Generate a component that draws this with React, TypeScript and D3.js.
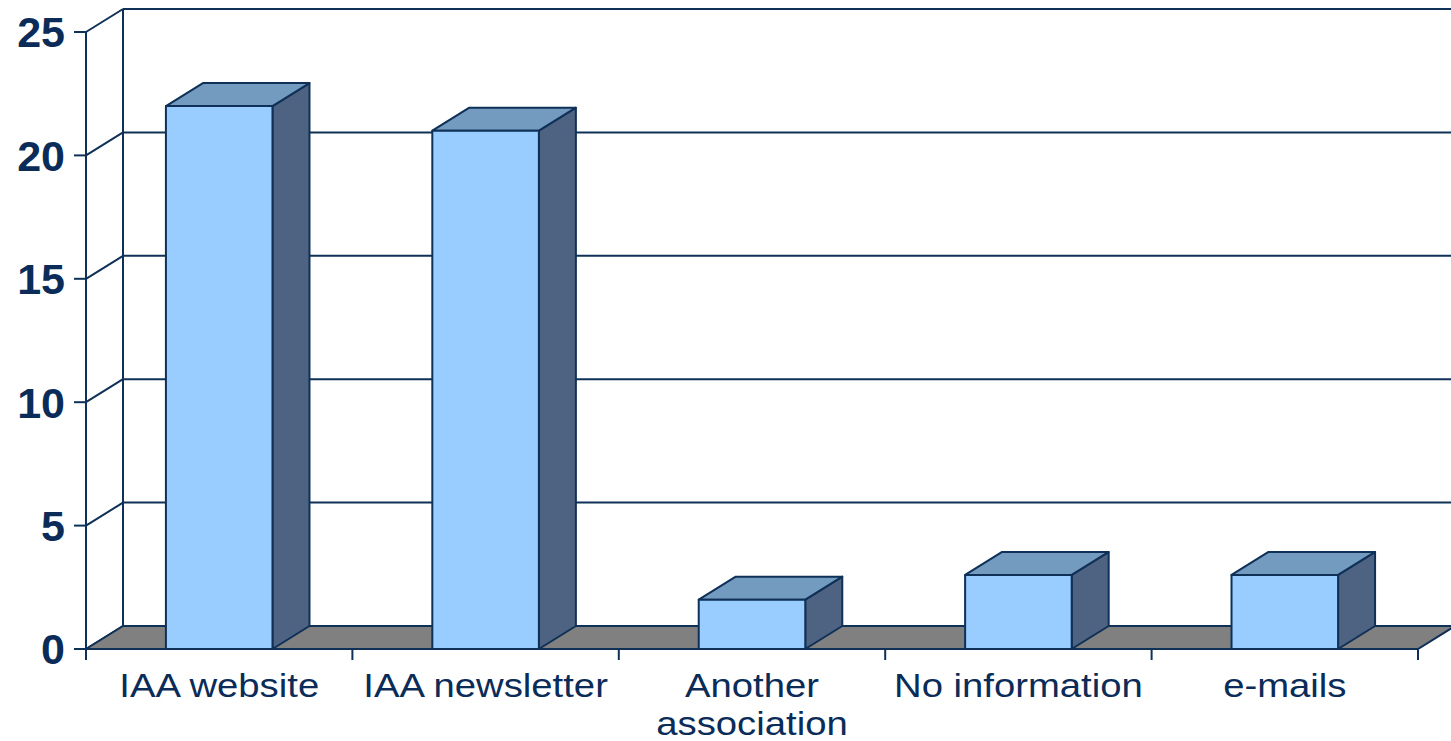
import React from "react";
import * as d3 from "d3";

const categories: string[][] = [
  ["IAA website"],
  ["IAA newsletter"],
  ["Another", "association"],
  ["No information"],
  ["e-mails"],
];
const values: number[] = [22, 21, 2, 3, 3];
const yTicks: number[] = [0, 5, 10, 15, 20, 25];

const W = 1451;
const H = 741;
const DX = 37;
const DY = 23;
const LINE = "#0f3057";
const TEXT = "#0b2c58";
const SW = 2;

export default function App() {
  const keys = categories.map((c) => c.join(" "));
  const x = d3.scaleBand<string>().domain(keys).range([86, 1418]).paddingInner(0.6).paddingOuter(0.3);
  const y = d3.scaleLinear().domain([0, 25]).range([649, 32]);
  const x0 = x.range()[0];
  const x1 = x.range()[1];
  const step = x.step();
  const base = y(0);

  const poly = (pts: [number, number][]) => pts.map((p) => p.join(",")).join(" ");

  return (
    <svg width={W} height={H} style={{ position: "absolute", left: 0, top: 0, background: "#fff" }}>
      {/* back wall gridlines */}
      {yTicks.map((t) => (
        <line key={"g" + t} x1={x0 + DX} x2={W} y1={y(t) - DY} y2={y(t) - DY} stroke={LINE} strokeWidth={SW} />
      ))}
      <line x1={x0 + DX} x2={x0 + DX} y1={y(25) - DY} y2={base - DY} stroke={LINE} strokeWidth={SW} />
      {/* left wall diagonals */}
      {yTicks.map((t) => (
        <line key={"d" + t} x1={x0} x2={x0 + DX} y1={y(t)} y2={y(t) - DY} stroke={LINE} strokeWidth={SW} />
      ))}
      {/* floor */}
      <polygon
        points={poly([
          [x0, base],
          [x0 + DX, base - DY],
          [x1 + DX, base - DY],
          [x1, base],
        ])}
        fill="#808080"
        stroke={LINE}
        strokeWidth={SW}
      />
      {/* bars */}
      {values.map((v, i) => {
        const bx = x(keys[i]) as number;
        const bw = x.bandwidth();
        const yt = y(v);
        return (
          <g key={"b" + i} stroke={LINE} strokeWidth={SW} strokeLinejoin="round">
            <polygon
              points={poly([
                [bx + bw, yt],
                [bx + bw + DX, yt - DY],
                [bx + bw + DX, base - DY],
                [bx + bw, base],
              ])}
              fill="#4d6381"
            />
            <polygon
              points={poly([
                [bx, yt],
                [bx + DX, yt - DY],
                [bx + bw + DX, yt - DY],
                [bx + bw, yt],
              ])}
              fill="#739abf"
            />
            <rect x={bx} y={yt} width={bw} height={base - yt} fill="#99ccff" />
          </g>
        );
      })}
      {/* front axes */}
      <line x1={x0} x2={x0} y1={y(25)} y2={base + 11} stroke={LINE} strokeWidth={SW} />
      <line x1={x0} x2={x1} y1={base} y2={base} stroke={LINE} strokeWidth={SW} />
      {yTicks.map((t) => (
        <line key={"t" + t} x1={x0 - 12} x2={x0} y1={y(t)} y2={y(t)} stroke={LINE} strokeWidth={SW} />
      ))}
      {d3.range(keys.length + 1).map((i) => (
        <line key={"xt" + i} x1={x0 + i * step} x2={x0 + i * step} y1={base} y2={base + 11} stroke={LINE} strokeWidth={SW} />
      ))}
      {/* y labels */}
      {yTicks.map((t) => (
        <text
          key={"yl" + t}
          x={65}
          y={y(t)}
          dy="0.36em"
          textAnchor="end"
          fontFamily="Liberation Sans, Arial, sans-serif"
          fontWeight="bold"
          fontSize={43}
          fill={TEXT}
        >
          {t}
        </text>
      ))}
      {/* x labels */}
      {categories.map((lines, i) => {
        const cx = (x(keys[i]) as number) + x.bandwidth() / 2;
        return (
          <g key={"xl" + i} transform={`translate(${cx},0) scale(1.16,1)`}>
            {lines.map((ln, j) => (
              <text
                key={j}
                x={0}
                y={697 + j * 38}
                textAnchor="middle"
                fontFamily="Liberation Sans, Arial, sans-serif"
                fontSize={33}
                fill={TEXT}
              >
                {ln}
              </text>
            ))}
          </g>
        );
      })}
    </svg>
  );
}
